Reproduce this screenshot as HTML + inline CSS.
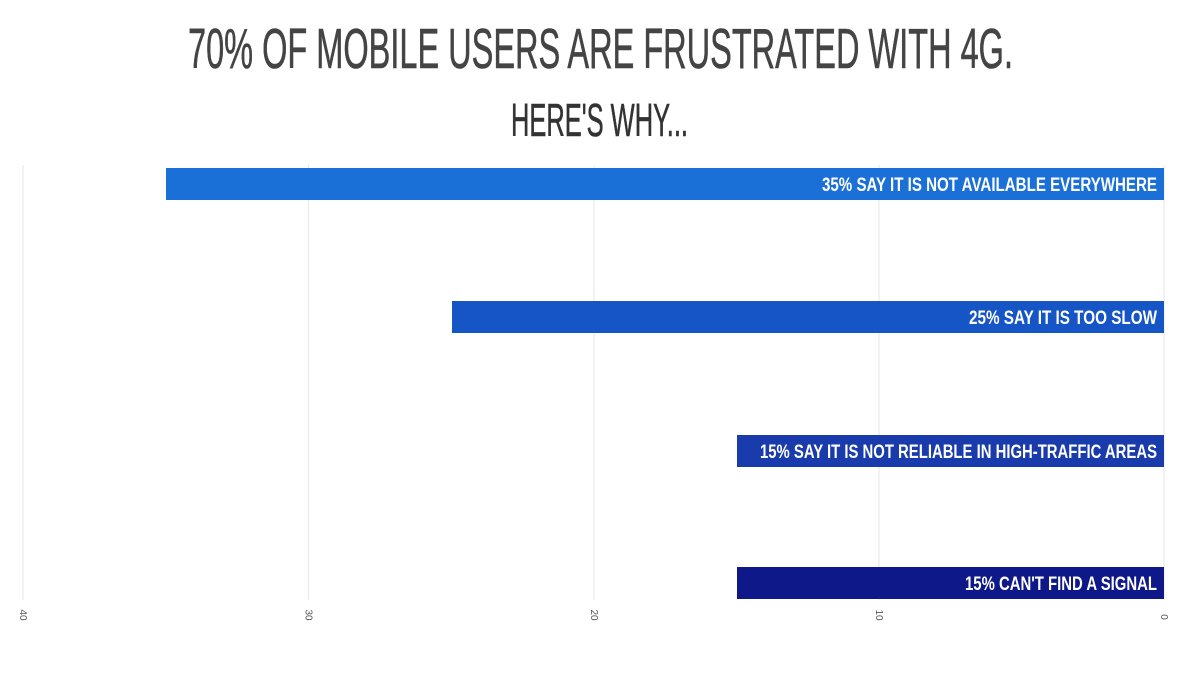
<!DOCTYPE html>
<html>
<head>
<meta charset="utf-8">
<style>
html,body{margin:0;padding:0;background:#fff;}
svg{display:block;}
</style>
</head>
<body>
<svg width="1200" height="675" viewBox="0 0 1200 675" xmlns="http://www.w3.org/2000/svg">
  <rect width="1200" height="675" fill="#ffffff"/>
  <!-- Title -->
  <text x="188" y="68" font-family="Liberation Sans, Arial, sans-serif" font-size="57" font-weight="normal" fill="#444444" stroke="#444444" stroke-width="0.6" textLength="825" lengthAdjust="spacingAndGlyphs">70% OF MOBILE USERS ARE FRUSTRATED WITH 4G.</text>
  <text x="511" y="136" font-family="Liberation Sans, Arial, sans-serif" font-size="46" font-weight="normal" fill="#333333" stroke="#333333" stroke-width="0.6" textLength="177" lengthAdjust="spacingAndGlyphs">HERE'S WHY...</text>

  <!-- gridlines -->
  <g stroke="#e8e8e8" stroke-width="1.2">
    <line x1="23" y1="165" x2="23" y2="600"/>
    <line x1="308.5" y1="165" x2="308.5" y2="600"/>
    <line x1="594" y1="165" x2="594" y2="600"/>
    <line x1="879" y1="165" x2="879" y2="600"/>
    <line x1="1164" y1="165" x2="1164" y2="600"/>
  </g>

  <!-- bars -->
  <rect x="166" y="168" width="998" height="32" fill="#1b70d8"/>
  <rect x="452" y="301" width="712" height="32" fill="#1655c6"/>
  <rect x="737" y="435" width="427" height="32" fill="#1a3bac"/>
  <rect x="737" y="567" width="427" height="32" fill="#0e1888"/>

  <!-- bar labels -->
  <g font-family="Liberation Sans, Arial, sans-serif" font-size="19" font-weight="bold" fill="#ffffff">
    <text x="822" y="191" textLength="335" lengthAdjust="spacingAndGlyphs">35% SAY IT IS NOT AVAILABLE EVERYWHERE</text>
    <text x="969" y="324" textLength="188" lengthAdjust="spacingAndGlyphs">25% SAY IT IS TOO SLOW</text>
    <text x="760" y="458" textLength="397" lengthAdjust="spacingAndGlyphs">15% SAY IT IS NOT RELIABLE IN HIGH-TRAFFIC AREAS</text>
    <text x="965" y="590" textLength="192" lengthAdjust="spacingAndGlyphs">15% CAN'T FIND A SIGNAL</text>
  </g>

  <!-- tick labels (rotated) -->
  <g font-family="Liberation Sans, Arial, sans-serif" font-size="10" fill="#555" text-anchor="middle">
    <text transform="translate(20,615) rotate(90)">40</text>
    <text transform="translate(305.5,615) rotate(90)">30</text>
    <text transform="translate(591,615) rotate(90)">20</text>
    <text transform="translate(876,615) rotate(90)">10</text>
    <text transform="translate(1161,617) rotate(90)">0</text>
  </g>
</svg>
</body>
</html>
